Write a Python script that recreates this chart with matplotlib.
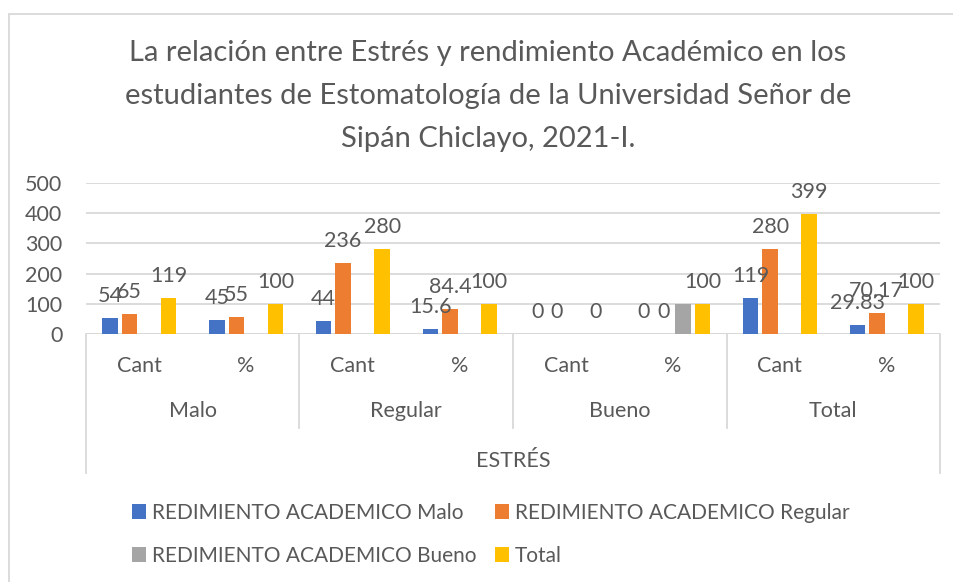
import numpy as np
import matplotlib
matplotlib.use("Agg")
import matplotlib.pyplot as plt
from matplotlib.patches import Rectangle
from matplotlib.lines import Line2D

plt.rcParams['font.family'] = ['Lato', 'DejaVu Sans']

title_lines = ["La relación entre Estrés y rendimiento Académico en los",
               "estudiantes de Estomatología de la Universidad Señor de",
               "Sipán Chiclayo, 2021-I."]
sub_labels = ["Cant", "%", "Cant", "%", "Cant", "%", "Cant", "%"]
group_labels = ["Malo", "Regular", "Bueno", "Total"]
axis_title = "ESTRÉS"
series_names = ["REDIMIENTO ACADEMICO Malo", "REDIMIENTO ACADEMICO Regular",
                "REDIMIENTO ACADEMICO Bueno", "Total"]
nan = np.nan
malo = [54, 45, 44, 15.6, 0, 0, 119, 29.83]
regular = [65, 55, 236, 84.4, 0, 0, 280, 70.17]
bueno = [nan, nan, nan, nan, nan, 100, nan, nan]
total = [119, 100, 280, 100, 0, 100, 399, 100]
show_labels = [True, True, False, True]
yticks = [0, 100, 200, 300, 400, 500]
colors = ["#4472C4", "#ED7D31", "#A5A5A5", "#FFC000"]

W, H = 954, 582
fig = plt.figure(figsize=(W / 100, H / 100), dpi=100)
TXT = "#595959"
GRID = "#D9D9D9"
FS = 15.5

def fx(px):
    return px / W

def fy(py):
    return 1 - py / H

x0, x1 = 86, 940
y0, y1 = 334, 183
ax = fig.add_axes([fx(x0), fy(y0), fx(x1) - fx(x0), fy(y1) - fy(y0)])
ax.set_xlim(-0.5, 7.5)
ax.set_ylim(0, 500)
ax.set_yticks(yticks)
ax.set_yticklabels([str(t) for t in yticks], fontsize=FS, color=TXT)
ax.tick_params(axis='y', length=0, pad=17)
ax.set_xticks([])
for s in ax.spines.values():
    s.set_visible(False)
ax.grid(axis='y', color=GRID, linewidth=1.3)
ax.set_axisbelow(True)
ax.axhline(0, color=GRID, linewidth=1.3, zorder=1)

x = np.arange(len(sub_labels))
bw = 0.145
step = 0.183
offsets = (np.arange(4) - 1.5) * step
all_series = [malo, regular, bueno, total]
for i, (vals, c, name) in enumerate(zip(all_series, colors, series_names)):
    v = np.array(vals, dtype=float)
    ax.bar(x + offsets[i], np.nan_to_num(v), width=bw, color=c, label=name, zorder=2)
    if not show_labels[i]:
        continue
    for xi, val in zip(x + offsets[i], v):
        if np.isnan(val):
            continue
        lab = ("%g" % val)
        ax.annotate(lab, (xi, val), xytext=(0, 12), textcoords='offset pixels',
                    ha='center', va='bottom', fontsize=FS, color=TXT, zorder=3)

# multi-level category axis
def vline(xp, ya, yb):
    fig.add_artist(Line2D([fx(xp), fx(xp)], [fy(ya), fy(yb)], color=GRID, linewidth=1.3))

vline(x0, y0, 473)
vline(x1, y0, 473)
gw = (x1 - x0) / 4
for k in range(1, 4):
    vline(x0 + k * gw, y0, 428)
cw = (x1 - x0) / 8
for k, lab in enumerate(sub_labels):
    fig.text(fx(x0 + (k + 0.5) * cw), fy(366), lab, ha='center', va='center',
             fontsize=FS, color=TXT)
for k, lab in enumerate(group_labels):
    fig.text(fx(x0 + (k + 0.5) * gw), fy(411), lab, ha='center', va='center',
             fontsize=FS, color=TXT)
fig.text(fx((x0 + x1) / 2), fy(461), axis_title, ha='center', va='center',
         fontsize=FS, color=TXT)

# title
for k, line in enumerate(title_lines):
    fig.text(fx(488), fy(53 + 43 * k), line, ha='center', va='center', fontsize=21,
             color=TXT)

# legend
handles, labels = ax.get_legend_handles_labels()
order = [0, 2, 1, 3]
leg = fig.legend([handles[i] for i in order], [labels[i] for i in order],
                 ncol=2, loc='upper left', bbox_to_anchor=(fx(113), fy(484)),
                 frameon=False, fontsize=15, labelcolor=TXT,
                 handlelength=0.7, handleheight=0.7, handletextpad=0.25,
                 columnspacing=0.9, labelspacing=1.1)

# chart border
fig.add_artist(Rectangle((fx(9.5), fy(H + 20)), fx(W + 20), fy(13.5) - fy(H + 20),
                         fill=False, edgecolor=GRID, linewidth=1.3))

fig.savefig("out.png", dpi=100)
